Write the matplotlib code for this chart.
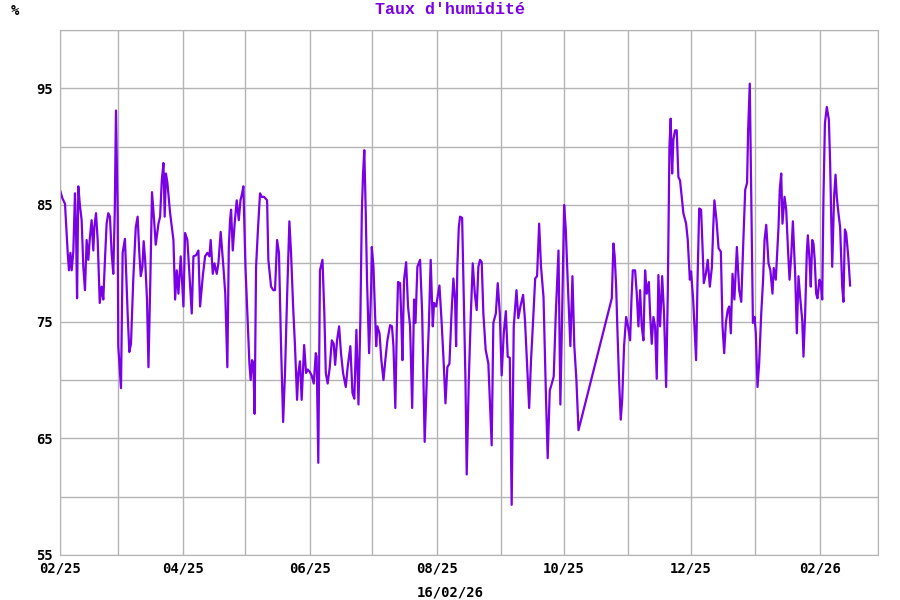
import numpy as np
import pandas as pd
import matplotlib
matplotlib.use("Agg")
import matplotlib.pyplot as plt
import matplotlib.dates as mdates
from matplotlib.ticker import MultipleLocator

# relative humidity readings, day offset from 01/02/2025
day_offset = [
    0, 1.1, 2.4, 3.7, 4.3, 5.0, 5.6, 6.4, 7.2, 7.7, 8.2, 8.8, 9.6, 10.4, 11.2, 12.0,
    12.8, 13.6, 14.4, 15.2, 16.0, 16.5, 17.3, 18.1, 19.1, 20.0, 20.8, 21.6, 22.4, 23.2,
    24.0, 24.8, 25.6, 26.3, 26.9, 27.7, 28.0, 29.3, 30.1, 31.2, 32.5, 33.3, 34.1, 35.2,
    36.4, 37.3, 38.1, 38.8, 39.6, 40.2, 40.9, 41.8, 42.5, 43.4, 44.2, 45.2, 46.0, 47.3,
    48.1, 48.9, 49.7, 50.3, 50.9, 51.6, 52.9, 54.5, 55.3, 56.1, 56.9, 58.0, 59.3, 60.1,
    61.2, 62.5, 63.3, 64.1, 65.4, 66.5, 67.3, 68.6, 69.7, 70.8, 71.8, 72.4, 73.4, 74.2,
    75.3, 76.1, 77.2, 78.5, 79.4, 80.4, 81.1, 81.7, 82.2, 83.0, 83.9, 84.9, 85.9, 86.7,
    87.5, 88.1, 89.1, 90.0, 91.0, 91.6, 92.3, 92.9, 93.5, 94.2, 95.1, 96.1, 96.9, 98.0,
    99.5, 100.1, 101.4, 102.5, 103.3, 104.3, 105.2, 106.2, 107.2, 108.1, 109.1, 110.2,
    111.0, 112.0, 112.9, 113.9, 114.5, 115.3, 116.1, 117.3, 118.2, 119.0, 120.0, 120.9,
    121.9, 122.9, 123.3, 124.1, 124.9, 126.1, 127.0, 127.7, 128.6, 129.6, 130.6, 131.5,
    132.2, 133.1, 134.1, 135.0, 136.0, 137.3, 138.2, 139.5, 140.5, 141.4, 142.4, 143.4,
    144.3, 145.0, 145.6, 146.2, 146.9, 147.5, 148.5, 149.5,
    149.8, 150.6, 151.9, 152.5, 153.5, 154.4, 155.4, 156.3, 157.3, 158.6, 159.5, 160.2,
    161.1, 161.8, 162.4, 163.4, 164.0, 164.5, 165.3, 166.3, 167.2, 168.2, 169.2, 170.1,
    170.8, 171.7, 173.0, 174.0, 174.6, 175.2, 176.2, 177.2, 178.1, 179.1, 179.7, 180.7,
    181.7, 182.3, 183.3, 184.2, 185.2, 186.1, 187.1, 188.1, 189.0, 189.8, 190.3, 190.9,
    191.6, 192.2, 193.2, 193.8, 194.8, 195.4, 196.4, 197.4, 198.3, 199.3, 200.2, 201.0,
    201.8, 202.6, 203.4, 204.5, 205.8, 207.4, 208.2, 209.4, 210.3, 211.3, 212.2, 213.2,
    214.2, 215.1, 216.1, 217.0, 218.0, 219.3, 220.2, 221.2, 222.5, 223.4, 224.4, 225.4,
    226.3, 227.3, 228.3, 229.2, 230.2, 231.1, 232.3, 233.4, 234.3, 235.3, 236.3, 237.2,
    238.2, 239.5, 240.4, 241.1, 242.2, 243.0, 243.9, 245.2, 246.2, 247.1, 248.1, 249.1,
    265.1, 265.9, 266.5, 267.2, 267.8, 268.6, 269.4, 270.1, 271.0, 272.0, 272.9, 273.9,
    274.6, 275.2, 276.3, 277.1, 277.9, 278.7, 279.5, 280.3, 281.1, 281.9, 282.9, 283.5,
    284.3, 285.1, 285.9, 286.7, 287.5, 288.3, 289.3, 290.2, 291.2, 292.0, 292.8, 293.4,
    294.1, 294.7, 295.5, 296.3, 297.1, 297.9, 299.5, 300.8,
    301.6, 302.6, 303.2, 304.2, 304.8, 305.6, 306.3, 307.1, 308.0, 308.7, 309.3, 310.3,
    311.2, 312.2, 313.2, 313.8, 314.4, 315.4, 316.4, 317.5, 318.3, 319.1, 319.9, 320.8,
    321.5, 322.3, 323.1, 324.0, 325.2, 326.3, 327.3, 328.2, 329.2, 330.1, 330.6, 331.4,
    332.1, 332.9, 333.7, 334.3, 335.1, 335.9, 336.9, 337.8, 338.5, 339.3, 340.4, 341.3,
    342.3, 342.9, 343.9, 345.2, 345.8, 346.5, 347.1, 348.1, 348.9, 349.7, 350.5, 351.3,
    352.1, 353.2, 354.0, 354.8, 355.6, 356.6, 357.2, 358.0, 358.8, 359.3, 360.1, 360.7,
    361.4, 362.0, 362.6, 363.3, 363.9, 364.9, 365.5, 366.2, 366.8, 367.5, 368.4, 369.4,
    370.0, 371.0, 371.9, 372.6, 373.2, 374.0, 374.8, 375.8, 376.4, 377.1, 377.7, 378.7,
    379.6,
]
humidity = [
    86.3, 85.6, 85.1, 80.9, 79.4, 80.9, 79.4, 81.0, 86.0, 82.9, 77.0, 86.6, 84.9, 83.7, 79.7, 77.7,
    82.0, 80.3, 82.3, 83.7, 81.1, 83.1, 84.3, 82.0, 76.6, 78.0, 76.9, 80.3, 83.4, 84.3,
    84.0, 80.9, 79.1, 84.3, 93.1, 84.3, 72.9, 69.3, 80.9, 82.1, 75.7, 72.4, 73.1, 78.6,
    83.1, 84.0, 80.9, 78.9, 79.7, 81.9, 80.3, 76.9, 71.1, 78.6, 86.1, 83.7, 81.6, 83.4,
    84.0, 87.1, 88.6, 84.0, 87.7, 86.9, 84.3, 82.0, 76.9, 79.4, 77.4, 80.6, 76.3, 82.6,
    82.0, 78.0, 75.7, 80.6, 80.7, 81.1, 76.3, 78.9, 80.6, 80.9, 80.6, 82.0, 79.1, 80.0,
    79.1, 80.0, 82.7, 79.7, 77.4, 71.1, 81.4, 83.7, 84.6, 81.1, 83.4, 85.4, 83.7, 85.4,
    86.0, 86.6, 79.7, 75.7, 71.4, 70.0, 71.7, 71.4, 67.1, 79.7, 82.9, 86.0, 85.7, 85.7,
    85.4, 80.3, 78.0, 77.7, 77.7, 82.0, 80.9, 72.9, 66.4, 70.6, 77.1, 83.6,
    80.9, 76.3, 72.9, 68.3, 70.6, 71.6, 68.3, 73.0, 70.6, 70.9, 70.7, 70.4,
    69.7, 72.3, 72.0, 62.9, 79.4, 80.3, 75.7, 70.6, 69.7, 71.1, 73.4, 73.1,
    71.3, 73.4, 74.6, 72.3, 70.6, 69.4, 71.1, 72.9, 68.9, 68.4, 74.3, 67.9,
    75.1, 84.3, 87.7, 89.7, 84.3, 78.6, 72.3, 78.0,
    81.4, 79.7, 72.9, 74.6, 74.0, 71.7, 70.0, 71.7, 73.4, 74.7, 74.6, 72.9,
    67.6, 74.3, 78.4, 78.3, 75.1, 71.7, 78.6, 80.1, 76.3, 74.6, 67.6, 76.9,
    74.9, 79.7, 80.3, 75.7, 70.0, 64.7, 70.0, 74.6, 80.3, 74.6, 76.6, 76.3,
    77.4, 78.1, 75.1, 72.0, 68.0, 71.1, 71.4, 75.7, 78.7, 76.9, 72.9, 79.7,
    83.1, 84.0, 83.9, 78.6, 70.0, 61.9, 70.0, 75.7, 80.0, 77.4, 76.0, 79.7,
    80.3, 80.1, 75.7, 72.6, 71.4, 64.4, 74.9, 75.7, 78.3, 75.7, 70.4, 74.0,
    75.9, 72.0, 71.9, 59.3, 74.6, 77.7, 75.3, 76.3, 77.3, 75.1, 71.4, 67.6,
    71.7, 75.1, 78.7, 78.9, 83.4, 79.7, 77.1, 69.1, 63.3, 69.1, 69.7, 70.3,
    75.7, 81.1, 67.9, 74.3, 85.0, 82.9, 78.6, 72.9, 78.9, 72.9, 70.0, 65.7,
    77.0, 81.7, 80.6, 78.0, 74.3, 70.0, 66.6, 68.3, 72.9, 75.4, 74.6, 73.4,
    77.1, 79.4, 79.4, 77.4, 74.6, 77.7, 74.6, 73.4, 79.4, 77.4, 78.4, 75.7,
    73.1, 75.4, 74.6, 70.1, 79.0, 74.6, 78.9, 75.7, 69.4, 77.4, 90.0, 92.4,
    87.7, 90.6, 91.4, 91.4, 87.4, 87.1, 84.3, 83.4,
    82.0, 78.6, 79.3, 76.9, 74.6, 71.7, 78.6, 84.7, 84.6, 81.4, 78.3, 79.1,
    80.3, 78.0, 79.7, 82.9, 85.4, 83.7, 81.3, 81.0, 74.6, 72.3, 74.9, 76.0,
    76.3, 74.0, 79.1, 76.9, 81.4, 77.7, 76.7, 81.4, 86.3, 86.9, 91.4, 95.4,
    85.7, 74.9, 75.4, 74.0, 69.4, 71.4, 75.7, 78.6, 82.0, 83.3, 80.0, 79.4,
    77.4, 79.6, 78.6, 83.1, 86.3, 87.7, 83.4, 85.7, 84.6, 81.4, 78.6, 80.6,
    83.6, 79.1, 74.0, 78.9, 77.1, 75.1, 72.0, 75.7, 80.9, 82.4, 80.3, 78.0,
    82.0, 81.7, 80.3, 77.4, 77.0, 78.6, 78.3, 76.9, 85.7, 92.0, 93.4, 92.3,
    88.6, 79.7, 85.7, 87.6, 85.7, 84.3, 83.1, 78.0, 76.7, 82.9, 82.6, 80.6,
    78.1,
]

start = pd.Timestamp("2025-02-01")
times = start + pd.to_timedelta(np.array(day_offset), unit="D")

line_color = "#7a00e6"
grid_color = "#b4b4b4"
mono = ["DejaVu Sans Mono"]

fig = plt.figure(figsize=(9, 6), dpi=100)
ax = fig.add_axes([60 / 900, 45 / 600, 818 / 900, 525 / 600])

ax.plot(times, humidity, color=line_color, linewidth=1.6)

ax.set_xlim(pd.Timestamp("2025-02-01"), pd.Timestamp("2026-03-01"))
ax.set_ylim(55, 100)

ax.xaxis.set_major_locator(mdates.MonthLocator(bymonth=[2, 4, 6, 8, 10, 12]))
ax.xaxis.set_minor_locator(mdates.MonthLocator())
ax.xaxis.set_major_formatter(mdates.DateFormatter("%m/%y"))
ax.yaxis.set_major_locator(MultipleLocator(10, offset=5))
ax.yaxis.set_minor_locator(MultipleLocator(5))

ax.grid(True, which="both", color=grid_color, linewidth=1)
ax.set_axisbelow(True)
ax.tick_params(which="both", length=0)
ax.tick_params(axis="x", pad=5)
ax.tick_params(axis="y", pad=5)
for lab in ax.get_xticklabels() + ax.get_yticklabels():
    lab.set_family(mono)
    lab.set_fontweight("bold")
    lab.set_fontsize(10)
for s in ax.spines.values():
    s.set_color(grid_color)

fig.text(15 / 900, 1 - 11 / 600, "%", family=mono, fontweight="bold", fontsize=10,
         ha="center", va="center")
fig.text(450 / 900, 1 - 10 / 600, "Taux d'humidité", family=["Liberation Mono"],
         fontweight="bold", fontsize=12, color=line_color, ha="center", va="center")
fig.text(450 / 900, 1 - 592 / 600, "16/02/26", family=mono, fontweight="bold",
         fontsize=10, ha="center", va="center")

fig.savefig("out.png", dpi=100)
